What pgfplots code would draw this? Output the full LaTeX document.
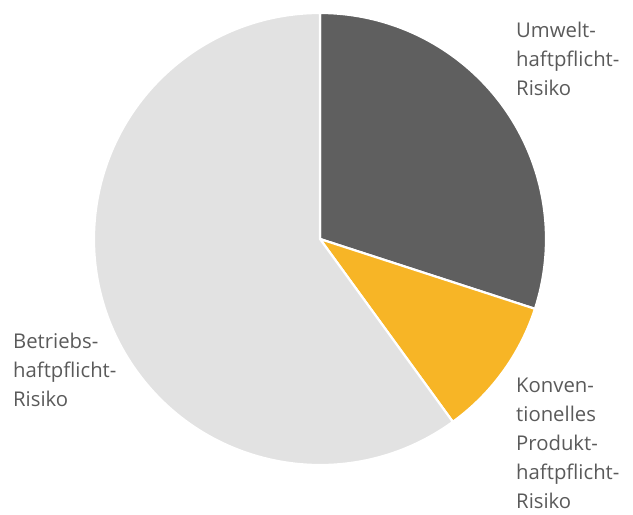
\documentclass[border=0pt]{standalone}
\usepackage{pgfplots}
\pgfplotsset{compat=1.18}
\usepackage{pgfplotstable}
\usepackage{fontspec}
\setmainfont{Open Sans}
\definecolor{slice0}{HTML}{5F5F5F}
\definecolor{slice1}{HTML}{F7B526}
\definecolor{slice2}{HTML}{E2E2E2}
\definecolor{txt}{HTML}{5A5A5A}
\pgfplotstableread{
value
30
10
60
}\piedata
\begin{document}
\begin{tikzpicture}
\begin{axis}[x=1bp, y=1bp, xmin=0, xmax=633, ymin=0, ymax=515,
  hide axis, clip=false, scale only axis]
\def\startang{90}
\pgfplotsforeachungrouped \i in {0,1,2} {
  \pgfplotstablegetelem{\i}{value}\of\piedata
  \pgfmathsetmacro\endang{\startang - 3.6*\pgfplotsretval}
  \edef\temp{\noexpand\fill[slice\i, draw=white, line width=2.2bp, line join=miter]
    (axis cs:320,276) -- ++(\startang:226bp)
    arc[start angle=\startang, end angle=\endang, radius=226bp] -- cycle;}
  \temp
  \global\let\startang\endang
}
\path (axis cs:0,0) rectangle (axis cs:633,515);
\tikzset{lab/.style={anchor=base west, inner sep=0pt, text=txt, font=\fontsize{20.3bp}{29bp}\selectfont}}
% Umwelt
\node[lab] at (axis cs:516,477) {Umwelt-};
\node[lab] at (axis cs:516,448) {haftpflicht-};
\node[lab] at (axis cs:516,419) {Risiko};
% Konventionelles
\node[lab] at (axis cs:516,122) {Konven-};
\node[lab] at (axis cs:516,93) {tionelles};
\node[lab] at (axis cs:516,64) {Produkt-};
\node[lab] at (axis cs:516,35) {haftpflicht-};
\node[lab] at (axis cs:516,6) {Risiko};
% Betriebs
\node[lab] at (axis cs:13,166) {Betriebs-};
\node[lab] at (axis cs:13,137) {haftpflicht-};
\node[lab] at (axis cs:13,108) {Risiko};
\end{axis}
\end{tikzpicture}
\end{document}
